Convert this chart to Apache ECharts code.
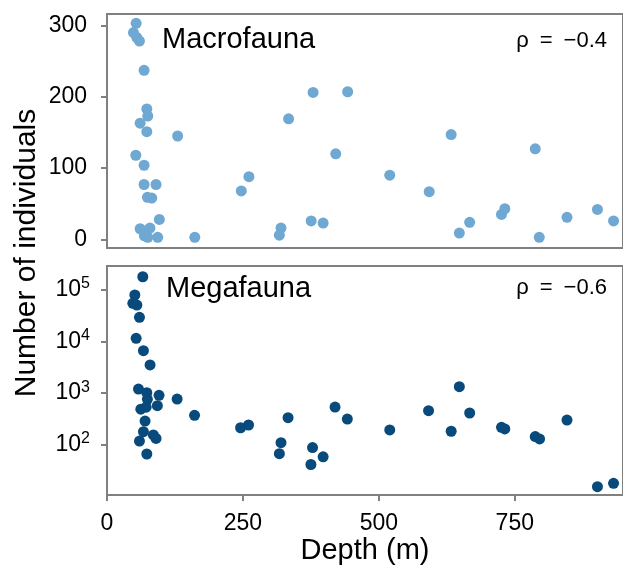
<!DOCTYPE html>
<html><head><meta charset="utf-8">
<script src="https://cdn.jsdelivr.net/npm/echarts@6/dist/echarts.min.js"></script>
<style>html,body{margin:0;padding:0;background:#fff}#c{width:623px;height:569px}</style>
</head><body><div id="c"></div>
<script>
// Macrofauna: depth (m) and number of individuals
const macroDepth = [53.6,48.7,54.9,59.7,68.2,73.2,75,60.9,73.2,129.9,53,68.2,68.2,90.2,74.3,82.3,96.3,61,79,68.8,93.3,75,161.5,334,261,247,320,317,379,442.6,420.7,520,592.6,633,787.6,375.5,397.5,648,667,725.5,731.6,795,846,902,931.6];
const macroCount = [303,290,283,278,237,183,173,163,151,145,118,104,77,77,59,58,28,15,16,5,3,3,3,169,88,68,16,6,206,207,120,90,67,147,127,26,23,9,24,35,43,3,31,42,26];
// Megafauna: depth (m) and number of individuals
const megaDepth = [65.8,51.2,47.5,54.9,59.7,53.6,67,79.2,57.9,73.2,95.7,129,74.3,92.6,62.2,72,161,70,67,85.3,90.2,59.7,73.2,245.7,260.3,333,320,317,378,375,397.5,419.4,442,520,591.4,633,648,667,725.5,731.6,787.6,795.6,846,902,931.6];
const megaCount = [176000,78300,54200,50100,29100,11400,6600,3500,1200,1020,910,770,760,573,490,535,374,290,181,156,134,119,67,215,243,336,111,68,89,42,59,540,316,195,460,184,1330,414,219,204,145,131,303,15.7,18.2];

const xTicks = [0,250,500,750];
const macroTicks = [0,100,200,300];
const megaTicks = [100,1000,10000,100000];
const panelNames = ['Macrofauna','Megafauna'];
const rhoLabels = ['ρ\u2002=\u2002−0.4','ρ\u2002=\u2002−0.6'];
const xTitle = 'Depth (m)';
const yTitle = 'Number of individuals';

const FONT = '"Liberation Sans", Arial, Helvetica, sans-serif';
const AX = '#808080';
const zip = (a,b) => a.map((v,i)=>[v,b[i]]);

const chart = echarts.init(document.getElementById('c'), null, {renderer:'canvas'});
const gridBase = {left:107, right:-3, show:true, borderColor:AX, borderWidth:2, backgroundColor:'transparent'};
const tickStyle = {show:true, length:6, inside:false, lineStyle:{color:AX, width:2}};
const supFmt = v => { const e = Math.round(Math.log10(v)); return '{b|10}{s|' + e + '}'; };

chart.setOption({
  animation:false,
  backgroundColor:'#fff',
  textStyle:{fontFamily:FONT},
  grid:[
    Object.assign({top:14, height:234}, gridBase),
    Object.assign({top:266, height:229}, gridBase)
  ],
  xAxis:[
    {type:'value', gridIndex:0, min:0, max:949, axisLine:{show:false}, axisTick:{show:false}, axisLabel:{show:false}, splitLine:{show:false}},
    {type:'value', gridIndex:1, min:0, max:949, axisLine:{show:false},
     axisTick:Object.assign({customValues:xTicks}, tickStyle),
     axisLabel:{customValues:xTicks, fontSize:23, color:'#000', margin:17, fontFamily:FONT},
     splitLine:{show:false}}
  ],
  yAxis:[
    {type:'value', gridIndex:0, min:-12, max:316, axisLine:{show:false},
     axisTick:Object.assign({customValues:macroTicks}, tickStyle),
     axisLabel:{customValues:macroTicks, fontSize:23, color:'#000', margin:20, fontFamily:FONT},
     splitLine:{show:false}},
    {type:'log', logBase:10, gridIndex:1, min:10.84, max:283800, axisLine:{show:false},
     axisTick:Object.assign({customValues:megaTicks}, tickStyle),
     axisLabel:{customValues:megaTicks, color:'#000', margin:17, formatter:supFmt,
       rich:{b:{fontSize:23, color:'#000', fontFamily:FONT}, s:{fontSize:16, color:'#000', fontFamily:FONT, padding:[0,0,12,0]}}},
     splitLine:{show:false}}
  ],
  series:[
    {type:'scatter', xAxisIndex:0, yAxisIndex:0, data:zip(macroDepth, macroCount), symbolSize:11, itemStyle:{color:'#6fa8d2', opacity:1}},
    {type:'scatter', xAxisIndex:1, yAxisIndex:1, data:zip(megaDepth, megaCount), symbolSize:11, itemStyle:{color:'#074a7b', opacity:1}}
  ],
  graphic:[
    {type:'text', x:162, y:40, style:{text:panelNames[0], fontSize:29, fontFamily:FONT, fill:'#000', align:'left', verticalAlign:'middle'}},
    {type:'text', x:166, y:289, style:{text:panelNames[1], fontSize:29, fontFamily:FONT, fill:'#000', align:'left', verticalAlign:'middle'}},
    {type:'text', x:607, y:41, style:{text:rhoLabels[0], fontSize:22, fontFamily:FONT, fill:'#000', align:'right', verticalAlign:'middle'}},
    {type:'text', x:607, y:288, style:{text:rhoLabels[1], fontSize:22, fontFamily:FONT, fill:'#000', align:'right', verticalAlign:'middle'}},
    {type:'text', x:365, y:551, style:{text:xTitle, fontSize:29, fontFamily:FONT, fill:'#000', align:'center', verticalAlign:'middle'}},
    {type:'text', x:27, y:253, rotation:Math.PI/2, style:{text:yTitle, fontSize:30, fontFamily:FONT, fill:'#000', align:'center', verticalAlign:'middle'}}
  ]
});
</script>
</body></html>
